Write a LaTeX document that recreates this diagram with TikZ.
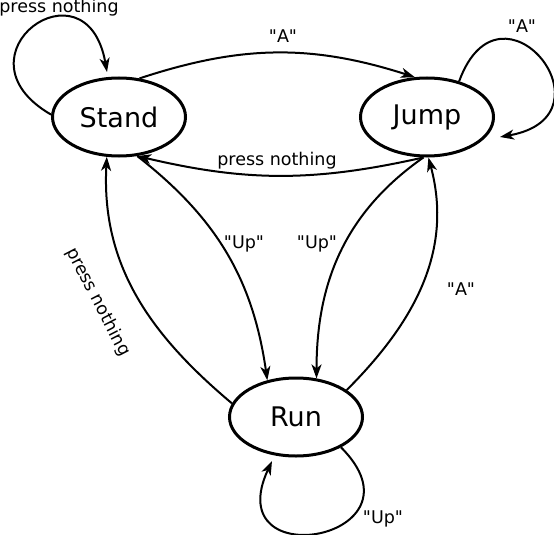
\documentclass[tikz,border=0pt]{standalone}
\usepackage{fontspec}
\setmainfont{DejaVu Sans}[Ligatures=TeXOff]
\usetikzlibrary{shapes.geometric,arrows.meta}

\tikzset{
  state/.style={ellipse,draw,line width=3pt,minimum width=133pt,minimum height=78pt,
    inner sep=0pt,font=\fontsize{27}{30}\selectfont},
  lbl/.style={font=\fontsize{17.5}{20}\selectfont,inner sep=0pt},
  edge/.style={line width=2pt,-{Stealth[length=14pt,width=10pt,inset=4pt]}},
}

\begin{document}
\begin{tikzpicture}[x=1pt,y=1pt]
        \useasboundingbox (0,0) rectangle (554,-535);
        % states
        \node[state] (stand) at (119,-117) {Stand};
        \node[state] (jump) at (427,-117) {Jump};
        \node[state] (run) at (296,-417) {Run};
        % loop ends
        \coordinate (standloop) at (107,-72);
        \coordinate (jumploop) at (500,-137);
        \coordinate (runloop) at (272,-461);
        % transitions
        \draw[edge] (stand.62) to[bend left=18] (jump.107);
        \draw[edge] (jump.265) to[bend left=13] (stand.295);
        \draw[edge] (stand.295) to[bend left=22] (run.128);
        \draw[edge] (jump.265) to[out=215,in=90] (run.62);
        \draw[edge] (run.28) to[out=45,in=-75] (jump.272);
        \draw[edge] (run.168) to[out=140,in=-93] (stand.253);
        \draw[edge] (stand.178) to[out=150,in=100,looseness=4.3] (standloop);
        \draw[edge] (jump.48) to[out=70,in=10,looseness=4.5] (jumploop);
        \draw[edge] (run.326) to[out=-45,in=-115,looseness=4.7] (runloop);
        % labels
        \node[lbl,anchor=base] (lstandjump) at (283,-43) {"A"};
        \node[lbl,anchor=base] (ljumpstand) at (277,-165) {press nothing};
        \node[lbl,anchor=base] (lstandrun) at (244,-248) {"Up"};
        \node[lbl,anchor=base] (ljumprun) at (317,-248) {"Up"};
        \node[lbl,anchor=base] (lrunjump) at (461,-295) {"A"};
        \node[lbl,rotate=-62.6] (lrunstand) at (98,-302) {press nothing};
        \node[lbl,anchor=base] (lstandloop) at (59,-13) {press nothing};
        \node[lbl,anchor=base] (ljumploop) at (522,-33) {"A"};
        \node[lbl,anchor=base] (lrunloop) at (383,-523) {"Up"};
\end{tikzpicture}
\end{document}
